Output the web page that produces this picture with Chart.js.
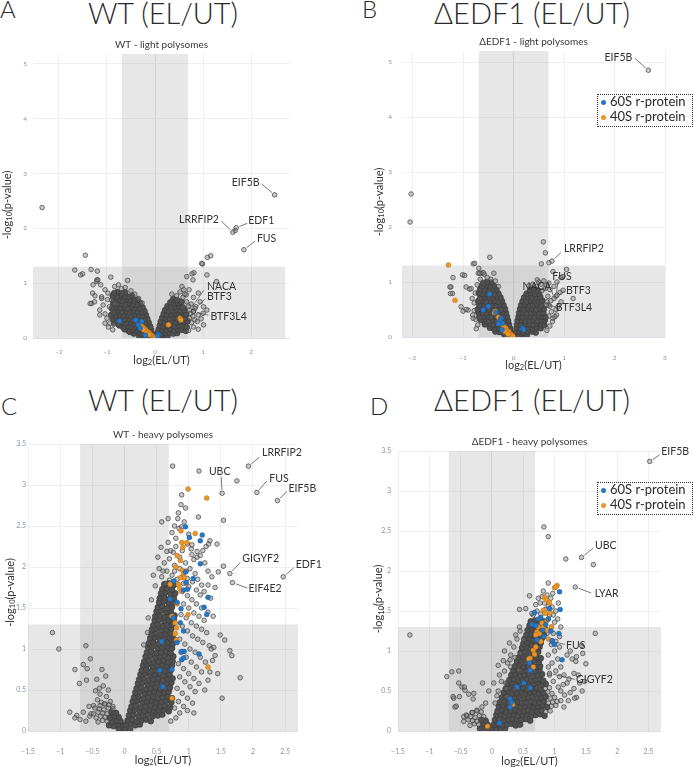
<!DOCTYPE html>
<html>
<head>
<meta charset="utf-8">
<script src="https://cdn.jsdelivr.net/npm/chart.js@4.4.1/dist/chart.umd.min.js"></script>
<style>
body { margin:0; background:#fff; width:693px; height:767px; position:relative; overflow:hidden; font-family:Lato, "Open Sans", sans-serif; color:#2a2a2a; }
canvas { position:absolute; }
.letra { position:absolute; font-family:"Lato Light", Lato, sans-serif; font-size:24px; font-weight:300; line-height:1; }
.titulo { position:absolute; width:400px; text-align:center; font-family:"Lato Light", Lato, sans-serif; font-size:29px; font-weight:300; line-height:1; white-space:nowrap; }
.leyenda { position:absolute; box-sizing:border-box; width:96px; height:33px; border:1px dotted #333; font-size:13px; }
.fila { position:absolute; left:12px; line-height:13px; white-space:nowrap; }
.punto { position:absolute; left:3px; width:5px; height:5px; border-radius:50%; }
</style>
</head>
<body>
<div class="letra" style="left:0px;top:-3px">A</div>
<div class="letra" style="left:362px;top:-3px">B</div>
<div class="letra" style="left:1px;top:394px">C</div>
<div class="letra" style="left:370px;top:394px">D</div>
<div class="titulo" style="left:-37px;top:-2px">WT (EL/UT)</div>
<div class="titulo" style="left:332px;top:-2px">ΔEDF1 (EL/UT)</div>
<div class="titulo" style="left:-37px;top:385px">WT (EL/UT)</div>
<div class="titulo" style="left:332px;top:385px">ΔEDF1 (EL/UT)</div>

<canvas id="grafico-a" width="346" height="345" style="left:0px;top:30px"></canvas>
<canvas id="grafico-b" width="347" height="345" style="left:346px;top:30px"></canvas>
<canvas id="grafico-c" width="346" height="357" style="left:0px;top:410px"></canvas>
<canvas id="grafico-d" width="347" height="357" style="left:346px;top:410px"></canvas>

<div class="leyenda" style="left:597px;top:94px">
  <div class="punto" style="top:5px;background:rgb(38,119,196)"></div><div class="fila" style="top:0px">60S r-protein</div>
  <div class="punto" style="top:20px;background:rgb(236,148,38)"></div><div class="fila" style="top:15px">40S r-protein</div>
</div>
<div class="leyenda" style="left:597px;top:482px">
  <div class="punto" style="top:5px;background:rgb(38,119,196)"></div><div class="fila" style="top:0px">60S r-protein</div>
  <div class="punto" style="top:20px;background:rgb(236,148,38)"></div><div class="fila" style="top:15px">40S r-protein</div>
</div>

<script>
// ---- thresholds used for the shaded areas
const umbralP = 1.3;     // -log10(0.05)
const umbralFC = 0.69;

// ---- tick values
const ticksLightXA = [-2, -1, 0, 1, 2];
const ticksLightXB = [-2, -1, 0, 1, 2, 3];
const ticksLightY = [0, 1, 2, 3, 4, 5];
const ticksHeavyX = [-1.5, -1, -0.5, 0, 0.5, 1, 1.5, 2, 2.5];
const ticksHeavyY = [0, 0.5, 1, 1.5, 2, 2.5, 3, 3.5];

// ================= A : WT light polysomes =================
const wtLightGenes = ['EIF5B', 'LRRFIP2', 'EDF1', 'FUS', 'NACA', 'BTF3', 'BTF3L4'];
const wtLightGeneX = [2.49, 1.62, 1.69, 1.85, 0.72, 0.83, 0.8];
const wtLightGeneY = [2.61, 1.93, 2.01, 1.61, 0.51, 0.54, 0.48];
const wtLight60S = [[-0.74,0.31],[-0.4,0.33],[-0.28,0.3],[-0.35,0.24],[-0.31,0.18],[0.07,0.07],[0.06,0.04],[-0.2,0.05]];
const wtLight40S = [[-0.28,0.22],[-0.25,0.19],[-0.22,0.17],[-0.19,0.14],[-0.16,0.12],[-0.13,0.1],[-0.1,0.07],[-0.07,0.05],[-0.05,0.03],
  [-0.03,0.02],[-0.01,0.01],[0.01,0.01],[0.03,0.02],[0.28,0.24],[0.52,0.36],[0.54,0.33],[-0.24,0.15],[-0.18,0.09],[-0.12,0.06]];
// scattered proteins
const wtLightCloud = [
  [-2.35,2.38],[-1.45,1.51],[-1.67,1.24],[-1.51,1.17],[-1.55,1.15],[-1.33,1.25],[-1.2,1.22],[-1.21,1.06],[-0.92,1.11],[-0.57,1.05],
  [-1.21,1.03],[-1.13,0.97],[-1.04,0.88],[-0.98,0.82],[-1.3,0.82],[-1.32,0.63],[-1.26,0.66],[-1.15,0.51],[-1.04,0.44],[-0.94,0.27],
  [-0.97,0.2],[-0.86,0.25],[-0.76,0.97],[-0.84,0.94],[-0.7,0.9],[-0.9,0.69],[-0.83,0.63],[-1.11,0.72],[-0.95,0.57],[-1.11,0.75],
  [-1.15,0.42],[-1.04,0.27],[-1.35,0.63],[-1.25,0.77],[-1.29,0.97],[-1.19,1.06],[-1.0,0.36],[-0.88,0.15],[-1.08,0.6],[-0.99,0.7],
  [-0.62,0.92],[-0.5,0.86],[-0.42,0.8],[-0.34,0.72],[-0.27,0.64],
  [0.99,1.35],[1.09,1.47],[1.16,1.5],[0.81,1.19],[0.77,1.17],[1.08,1.15],[1.28,1.03],[0.66,1.12],[0.79,1.06],[0.97,1.36],
  [0.56,0.94],[0.6,0.88],[0.71,0.88],[0.65,0.79],[0.8,0.74],[0.9,0.82],[0.94,0.66],[1.01,0.57],[1.0,0.45],[0.9,0.42],
  [1.08,0.51],[0.83,0.33],[0.88,0.3],[1.01,0.24],[0.8,0.49],[0.79,0.4],[0.72,0.36],[0.76,0.28],[0.74,0.45],[0.7,0.58],
  [0.66,0.66],[0.58,0.74],[0.45,0.77],[0.35,0.8],[0.8,0.2],[0.9,0.16],[0.7,0.14],[0.75,0.62],[0.85,0.57],[0.62,0.8],
  [0.52,0.84],[0.96,0.35],[1.67,1.96]
];
// densely packed proteins
const wtLightCore = [
  [-0.04,0.02],[-0.1,0.04],[-0.17,0.03],[-0.25,0.05],[-0.33,0.04],
  [-0.06,0.08],[-0.13,0.07],[-0.2,0.09],[-0.28,0.08],[-0.36,0.1],[-0.44,0.08],[-0.52,0.11],
  [-0.08,0.15],[-0.15,0.13],[-0.23,0.14],[-0.31,0.16],[-0.39,0.14],[-0.47,0.15],[-0.55,0.13],[-0.63,0.16],
  [-0.1,0.21],[-0.18,0.2],[-0.26,0.22],[-0.34,0.19],[-0.42,0.21],[-0.5,0.2],[-0.58,0.22],[-0.66,0.19],[-0.74,0.23],
  [-0.13,0.28],[-0.21,0.26],[-0.29,0.27],[-0.37,0.29],[-0.45,0.26],[-0.53,0.28],[-0.61,0.27],[-0.69,0.29],[-0.77,0.26],[-0.85,0.28],
  [-0.16,0.35],[-0.24,0.33],[-0.32,0.34],[-0.4,0.36],[-0.48,0.33],[-0.56,0.35],[-0.64,0.34],[-0.72,0.36],[-0.8,0.33],[-0.88,0.35],
  [-0.19,0.42],[-0.27,0.4],[-0.35,0.41],[-0.43,0.43],[-0.51,0.4],[-0.59,0.42],[-0.67,0.41],[-0.75,0.43],[-0.83,0.4],[-0.91,0.42],
  [-0.22,0.49],[-0.3,0.47],[-0.38,0.48],[-0.46,0.5],[-0.54,0.47],[-0.62,0.49],[-0.7,0.48],[-0.78,0.5],[-0.86,0.47],
  [-0.26,0.56],[-0.34,0.54],[-0.42,0.55],[-0.5,0.57],[-0.58,0.54],[-0.66,0.56],[-0.74,0.55],[-0.82,0.57],[-0.9,0.54],
  [-0.31,0.63],[-0.39,0.61],[-0.47,0.62],[-0.55,0.64],[-0.63,0.61],[-0.71,0.63],[-0.79,0.62],[-0.87,0.64],
  [-0.37,0.7],[-0.45,0.68],[-0.53,0.69],[-0.61,0.71],[-0.69,0.68],[-0.77,0.7],[-0.85,0.69],
  [-0.48,0.77],[-0.56,0.75],[-0.64,0.76],[-0.72,0.78],[-0.8,0.75],[-0.88,0.77],
  [-0.62,0.83],[-0.7,0.81],[-0.78,0.84],[-0.85,0.82],
  [0.04,0.03],[0.11,0.02],[0.18,0.04],[0.26,0.03],
  [0.06,0.1],[0.14,0.08],[0.22,0.09],[0.3,0.1],[0.38,0.08],[0.46,0.09],
  [0.08,0.16],[0.16,0.14],[0.24,0.15],[0.32,0.17],[0.4,0.14],[0.48,0.16],[0.56,0.15],[0.64,0.13],
  [0.1,0.23],[0.18,0.21],[0.26,0.22],[0.34,0.24],[0.42,0.21],[0.5,0.23],[0.58,0.22],[0.66,0.2],
  [0.12,0.3],[0.2,0.28],[0.28,0.29],[0.36,0.31],[0.44,0.28],[0.52,0.3],[0.6,0.29],[0.68,0.31],
  [0.15,0.37],[0.23,0.35],[0.31,0.36],[0.39,0.38],[0.47,0.35],[0.55,0.37],[0.63,0.36],
  [0.18,0.44],[0.26,0.42],[0.34,0.43],[0.42,0.45],[0.5,0.42],[0.58,0.44],[0.65,0.43],
  [0.21,0.51],[0.29,0.49],[0.37,0.5],[0.45,0.52],[0.53,0.49],[0.61,0.51],
  [0.26,0.58],[0.34,0.56],[0.42,0.57],[0.5,0.59],[0.58,0.56],
  [0.32,0.65],[0.4,0.63],[0.48,0.64],[0.55,0.66],
  [0.38,0.71],[0.46,0.69]
];

// ================= B : dEDF1 light polysomes =================
const edfLightGenes = ['EIF5B', 'LRRFIP2', 'FUS', 'NACA', 'BTF3', 'BTF3L4'];
const edfLightGeneX = [2.67, 0.76, 0.84, 0.8, 0.86, 0.65];
const edfLightGeneY = [4.85, 1.38, 0.74, 0.7, 0.76, 0.58];
const edfLight60S = [[-0.47,0.78],[-0.5,0.56],[-0.6,0.49],[-0.25,0.34],[-0.27,0.29],[-0.22,0.25],[-0.23,0.13],[0.18,0.16],[0.2,0.13],[-0.3,0.24],[-0.35,0.45]];
const edfLight40S = [[-1.29,1.31],[-1.16,0.67],[-0.38,0.44],[-0.36,0.47],[-0.3,0.36],[-0.27,0.32],[-0.24,0.26],[-0.21,0.21],[-0.19,0.18],
  [-0.15,0.16],[-0.13,0.12],[-0.09,0.09],[-0.06,0.05],[-0.03,0.03],[-0.01,0.01],[-0.17,0.1],[-0.11,0.05]];
const edfLightCloud = [
  [-2.03,2.6],[-2.05,2.09],[-1.24,0.91],[-1.2,1.08],[-1.21,0.79],[-1.25,0.79],[-1.04,0.55],[-1.0,0.47],[-0.9,0.49],[-0.94,0.5],
  [-0.94,0.91],[-0.87,0.87],[-0.84,0.88],[-1.01,1.13],[-0.97,1.12],[-0.8,1.33],[-0.77,1.34],[-0.69,1.25],[-0.47,1.45],[-0.39,1.16],
  [-0.58,1.14],[-0.64,1.16],[-0.7,1.16],[-0.67,1.16],[-0.6,1.17],[-0.81,0.4],[-0.8,0.34],[-0.75,0.32],[-0.71,0.22],[-1.26,0.91],
  [-0.78,0.62],[-0.82,0.7],[-0.76,0.8],[-0.72,0.95],[-0.66,1.05],[-0.52,1.08],[-0.45,1.05],[-0.36,1.02],[-0.3,0.92],[-0.78,0.48],[-0.74,0.15],
  [0.59,1.73],[0.63,1.53],[0.55,1.33],[0.7,1.35],[0.78,1.19],[1.05,1.23],[0.98,1.1],[0.94,1.08],[0.47,1.04],[0.98,0.85],
  [0.92,0.81],[1.18,0.7],[0.94,0.64],[0.69,0.58],[0.75,0.46],[0.78,0.34],[0.77,0.28],[0.85,0.4],[0.82,0.37],[0.72,0.56],
  [0.5,1.0],[0.55,0.96],[0.6,1.02],[0.65,0.94],[0.7,0.98],[0.62,0.88],[0.72,0.86],[0.8,0.92],[0.86,1.0],[0.68,0.74],
  [0.74,0.66],[0.66,0.64],[0.7,0.38],[0.72,0.2],[0.66,0.12],[0.3,0.93],[0.38,0.96],[0.45,0.92],[0.56,0.84],[0.88,0.55],[0.84,0.5]
];
const edfLightCore = [
  [-0.04,0.03],[-0.11,0.02],[-0.18,0.04],
  [-0.05,0.09],[-0.12,0.1],[-0.2,0.08],[-0.28,0.09],[-0.36,0.1],
  [-0.07,0.16],[-0.15,0.15],[-0.23,0.17],[-0.31,0.16],[-0.39,0.15],[-0.47,0.17],
  [-0.09,0.23],[-0.17,0.22],[-0.25,0.24],[-0.33,0.23],[-0.41,0.22],[-0.49,0.24],[-0.57,0.23],
  [-0.11,0.3],[-0.19,0.31],[-0.27,0.29],[-0.35,0.3],[-0.43,0.31],[-0.51,0.29],[-0.59,0.3],[-0.65,0.31],
  [-0.13,0.37],[-0.21,0.36],[-0.29,0.38],[-0.37,0.37],[-0.45,0.36],[-0.53,0.38],[-0.61,0.37],[-0.68,0.36],
  [-0.15,0.44],[-0.23,0.45],[-0.31,0.43],[-0.39,0.44],[-0.47,0.45],[-0.55,0.43],[-0.63,0.44],[-0.7,0.45],
  [-0.17,0.51],[-0.25,0.5],[-0.33,0.52],[-0.41,0.51],[-0.49,0.5],[-0.57,0.52],[-0.65,0.51],[-0.71,0.5],
  [-0.2,0.58],[-0.28,0.59],[-0.36,0.57],[-0.44,0.58],[-0.52,0.59],[-0.6,0.57],[-0.68,0.58],
  [-0.23,0.65],[-0.31,0.64],[-0.39,0.66],[-0.47,0.65],[-0.55,0.64],[-0.63,0.66],[-0.7,0.65],
  [-0.26,0.72],[-0.34,0.73],[-0.42,0.71],[-0.5,0.72],[-0.58,0.73],[-0.66,0.71],
  [-0.3,0.79],[-0.38,0.78],[-0.46,0.8],[-0.54,0.79],[-0.62,0.78],[-0.69,0.8],
  [-0.34,0.86],[-0.42,0.87],[-0.5,0.85],[-0.58,0.86],[-0.66,0.87],
  [-0.39,0.93],[-0.47,0.92],[-0.55,0.94],[-0.63,0.93],
  [-0.45,0.99],[-0.53,1.0],[-0.6,0.98],
  [0.03,0.03],[0.1,0.02],[0.18,0.04],[0.26,0.03],
  [0.05,0.09],[0.12,0.1],[0.2,0.08],[0.28,0.09],[0.36,0.1],[0.44,0.08],
  [0.06,0.16],[0.14,0.15],[0.22,0.17],[0.3,0.16],[0.38,0.15],[0.46,0.17],[0.54,0.16],
  [0.07,0.23],[0.15,0.22],[0.23,0.24],[0.31,0.23],[0.39,0.22],[0.47,0.24],[0.55,0.23],[0.61,0.22],
  [0.08,0.3],[0.16,0.31],[0.24,0.29],[0.32,0.3],[0.4,0.31],[0.48,0.29],[0.56,0.3],[0.62,0.31],
  [0.1,0.37],[0.18,0.36],[0.26,0.38],[0.34,0.37],[0.42,0.36],[0.5,0.38],[0.58,0.37],[0.63,0.36],
  [0.11,0.44],[0.19,0.45],[0.27,0.43],[0.35,0.44],[0.43,0.45],[0.51,0.43],[0.59,0.44],
  [0.13,0.51],[0.21,0.5],[0.29,0.52],[0.37,0.51],[0.45,0.5],[0.53,0.52],[0.6,0.51],
  [0.15,0.58],[0.23,0.59],[0.31,0.57],[0.39,0.58],[0.47,0.59],[0.55,0.57],
  [0.18,0.65],[0.26,0.64],[0.34,0.66],[0.42,0.65],[0.5,0.64],[0.57,0.66],
  [0.21,0.72],[0.29,0.73],[0.37,0.71],[0.45,0.72],[0.53,0.73],
  [0.26,0.79],[0.34,0.8],[0.42,0.78],[0.5,0.79],
  [0.33,0.86],[0.41,0.87],[0.48,0.85]
];

// ================= C : WT heavy polysomes =================
const wtHeavyGenes = ['LRRFIP2', 'UBC', 'FUS', 'EIF5B', 'GIGYF2', 'EDF1', 'EIF4E2'];
const wtHeavyGeneX = [1.93, 1.52, 2.06, 2.38, 1.64, 2.47, 1.68];
const wtHeavyGeneY = [3.23, 2.9, 2.91, 2.81, 1.92, 1.88, 1.81];
const wtHeavy60S = [[0.95,2.49],[1.01,2.36],[1.18,2.32],[1.21,2.39],[1.18,2.04],[0.95,1.94],[0.77,1.83],[0.96,1.81],[0.92,1.72],[0.98,1.73],
  [1.07,1.86],[1.3,1.63],[1.24,1.51],[1.28,1.42],[0.71,1.61],[0.82,1.57],[0.88,1.49],[0.76,1.38],[0.87,1.32],[0.92,1.22],
  [0.58,1.09],[0.82,1.08],[0.93,0.97],[0.89,0.87],[0.74,0.75],[0.55,0.74],[0.6,0.54],[1.16,0.94],[0.92,0.89],[0.89,0.97]];
const wtHeavy40S = [[0.99,2.95],[1.28,2.84],[0.88,2.44],[1.1,2.41],[0.89,2.3],[0.97,2.3],[0.91,2.24],[0.82,2.14],[0.87,2.08],[0.9,1.96],
  [0.92,1.91],[0.71,1.79],[0.84,1.79],[0.96,1.8],[0.93,1.87],[0.87,1.87],[0.88,1.71],[0.82,1.55],[0.74,1.4],[0.79,1.32],
  [0.81,1.26],[0.79,1.19],[0.81,1.11],[0.99,1.42],[1.3,0.78],[0.74,0.4],[0.8,2.0],[0.86,1.74]];
const wtHeavyCloud = [
  [0.75,3.23],[1.16,3.17],[1.75,3.05],[1.54,2.01],[1.46,1.94],[1.54,2.57],[0.89,2.88],[1.15,2.61],[0.88,2.76],[0.84,2.66],
  [0.95,2.72],[0.83,2.59],[0.68,2.59],[0.58,2.55],[0.93,2.55],[0.89,2.49],[0.85,2.47],[1.33,2.32],[1.44,2.28],[1.27,2.25],
  [0.57,2.24],[0.66,2.19],[0.76,2.18],[1.05,2.15],[1.13,2.12],[1.08,2.09],[0.48,1.77],[1.41,1.75],[0.8,2.35],[1.05,2.27],
  [1.13,2.19],[1.18,2.14],[1.31,2.28],[0.62,2.05],[0.7,2.1],[0.78,2.02],[0.86,1.98],[0.95,2.05],[1.02,1.98],[1.1,1.92],
  [0.66,1.95],[0.74,1.9],[0.82,1.85],[0.9,1.88],[0.98,1.86],[1.06,1.82],[1.14,1.85],[1.2,1.78],[0.58,1.88],[0.72,2.2],
  [0.8,2.25],[0.9,2.2],[0.98,2.28],[1.04,2.22],[0.68,2.3],[0.74,2.42],[0.78,2.5],[1.0,2.4],[1.22,2.2],[1.25,2.05],
  [1.3,1.95],[1.36,1.88],[1.3,1.78],[1.24,1.7],[1.34,1.62],[1.18,1.66],[1.12,1.72],[1.0,1.76],[0.92,1.8],[0.54,1.98],
  [0.52,2.12],[0.7,1.84],[0.78,1.95],[0.86,2.12],[0.64,1.8],[0.6,1.95],[0.96,1.95],[0.37,1.38],[0.42,1.6],[0.45,1.9],[0.36,1.2],[0.3,1.05],
  [0.9,1.7],[0.98,1.65],[1.05,1.6],[1.12,1.55],[1.2,1.5],[1.3,1.45],[1.38,1.4],[0.92,1.55],[1.0,1.5],[1.08,1.44],
  [1.16,1.4],[1.24,1.35],[0.88,1.42],[0.96,1.38],[1.04,1.32],[1.12,1.28],[1.2,1.24],[1.28,1.2],[0.9,1.28],[0.98,1.22],
  [1.06,1.16],[1.14,1.12],[1.22,1.08],[1.32,1.04],[1.41,0.92],[1.35,1.0],[1.49,1.17],[1.56,1.11],[1.64,0.98],[1.67,0.92],
  [1.37,0.86],[1.33,0.72],[1.52,0.4],[1.8,0.65],[0.86,1.12],[0.94,1.06],[1.02,1.0],[1.1,0.96],[1.18,0.9],[1.26,0.84],
  [0.88,0.96],[0.96,0.9],[1.04,0.84],[1.12,0.78],[1.2,0.72],[0.84,0.82],[0.92,0.76],[1.0,0.7],[1.08,0.64],[1.16,0.58],
  [0.86,0.66],[0.94,0.6],[1.02,0.54],[1.1,0.48],[0.82,0.52],[0.9,0.46],[0.98,0.4],[1.06,0.34],[0.84,0.36],[0.92,0.3],
  [0.78,0.28],[0.86,0.22],[0.8,0.16],[0.72,0.12],[0.98,0.25],[1.08,0.22],[1.25,0.5],[1.3,0.62],[1.45,0.7],[1.39,1.02],
  [-1.12,1.2],[-1.02,1.0],[-0.6,1.04],[-0.53,0.88],[-0.64,0.81],[-0.77,0.75],[-0.58,0.76],[-0.35,0.75],[-0.29,0.67],[-0.7,0.58],
  [-0.59,0.62],[-0.85,0.23],[-0.74,0.19],[-0.77,0.16],[-0.54,0.18],[-0.52,0.21],[-0.43,0.63],[-0.39,0.52],[-0.45,0.49],[-0.38,0.45],
  [-0.33,0.55],[-0.42,0.38],[-0.36,0.35],[-0.3,0.33],[-0.48,0.31],[-0.64,0.23],[-0.69,0.14],[-0.28,0.42],[-0.22,0.36],[-0.25,0.5],
  [-0.18,0.3],[-0.55,0.3],[-0.6,0.12],
  [-0.27,0.12],[-0.34,0.13],[-0.41,0.11],[-0.3,0.17],[-0.37,0.18],[-0.44,0.16],
  [-0.27,0.21],[-0.34,0.22],[-0.41,0.23],[-0.48,0.21],
  [-0.18,0.27],[-0.25,0.28],[-0.32,0.26],[-0.39,0.27],[-0.46,0.28],
  [-0.24,0.32],[-0.31,0.33],[-0.38,0.31]
];
const wtHeavyCore = [
  [-0.03,0.02],[-0.09,0.03],
  [-0.04,0.07],[-0.1,0.08],[-0.17,0.06],[-0.24,0.07],
  [-0.06,0.12],[-0.13,0.13],[-0.2,0.11],
  [-0.09,0.17],[-0.16,0.18],[-0.23,0.16],
  [-0.13,0.22],[-0.2,0.23],
  [0.02,0.03],[0.09,0.02],
  [0.03,0.08],[0.1,0.09],[0.17,0.07],[0.24,0.08],
  [0.05,0.13],[0.12,0.14],[0.2,0.12],[0.27,0.13],[0.34,0.14],[0.41,0.12],
  [0.07,0.19],[0.14,0.2],[0.22,0.18],[0.29,0.19],[0.37,0.2],[0.44,0.18],[0.52,0.19],[0.59,0.2],
  [0.09,0.25],[0.16,0.26],[0.24,0.24],[0.31,0.25],[0.39,0.26],[0.46,0.24],[0.54,0.25],[0.61,0.26],[0.69,0.24],
  [0.11,0.3],[0.18,0.31],[0.26,0.29],[0.33,0.3],[0.41,0.31],[0.48,0.29],[0.56,0.3],[0.63,0.31],[0.71,0.29],
  [0.13,0.36],[0.2,0.37],[0.28,0.35],[0.35,0.36],[0.43,0.37],[0.5,0.35],[0.58,0.36],[0.65,0.37],[0.73,0.35],
  [0.15,0.41],[0.22,0.42],[0.3,0.4],[0.37,0.41],[0.45,0.42],[0.52,0.4],[0.6,0.41],[0.67,0.42],[0.74,0.4],
  [0.17,0.47],[0.24,0.48],[0.32,0.46],[0.39,0.47],[0.47,0.48],[0.54,0.46],[0.62,0.47],[0.69,0.48],
  [0.19,0.52],[0.26,0.53],[0.34,0.51],[0.41,0.52],[0.49,0.53],[0.56,0.51],[0.64,0.52],[0.71,0.53],
  [0.21,0.58],[0.28,0.59],[0.36,0.57],[0.43,0.58],[0.51,0.59],[0.58,0.57],[0.66,0.58],[0.73,0.59],
  [0.23,0.63],[0.3,0.64],[0.38,0.62],[0.45,0.63],[0.53,0.64],[0.6,0.62],[0.68,0.63],[0.75,0.64],
  [0.25,0.69],[0.32,0.7],[0.4,0.68],[0.47,0.69],[0.55,0.7],[0.62,0.68],[0.7,0.69],
  [0.27,0.74],[0.34,0.75],[0.42,0.73],[0.49,0.74],[0.57,0.75],[0.64,0.73],[0.72,0.74],
  [0.29,0.8],[0.36,0.81],[0.44,0.79],[0.51,0.8],[0.59,0.81],[0.66,0.79],[0.74,0.8],
  [0.31,0.85],[0.38,0.86],[0.46,0.84],[0.53,0.85],[0.61,0.86],[0.68,0.84],[0.75,0.85],
  [0.33,0.91],[0.4,0.92],[0.48,0.9],[0.55,0.91],[0.63,0.92],[0.7,0.9],[0.76,0.91],
  [0.35,0.96],[0.42,0.97],[0.5,0.95],[0.57,0.96],[0.65,0.97],[0.72,0.95],
  [0.37,1.02],[0.44,1.03],[0.52,1.01],[0.59,1.02],[0.67,1.03],[0.74,1.01],
  [0.38,1.07],[0.45,1.08],[0.53,1.06],[0.6,1.07],[0.68,1.08],[0.75,1.06],
  [0.4,1.13],[0.47,1.14],[0.55,1.12],[0.62,1.13],[0.7,1.14],[0.77,1.12],
  [0.42,1.18],[0.49,1.19],[0.57,1.17],[0.64,1.18],[0.72,1.19],
  [0.43,1.24],[0.5,1.25],[0.58,1.23],[0.65,1.24],[0.73,1.25],
  [0.45,1.29],[0.52,1.3],[0.6,1.28],[0.67,1.29],[0.75,1.3],
  [0.47,1.35],[0.54,1.36],[0.62,1.34],[0.69,1.35],[0.77,1.36],
  [0.48,1.4],[0.55,1.41],[0.63,1.39],[0.7,1.4],[0.78,1.41],
  [0.5,1.46],[0.57,1.47],[0.65,1.45],[0.72,1.46],
  [0.52,1.51],[0.59,1.52],[0.67,1.5],[0.74,1.51],
  [0.54,1.57],[0.61,1.58],[0.69,1.56],[0.76,1.57],
  [0.55,1.62],[0.62,1.63],[0.7,1.61],[0.77,1.62],
  [0.57,1.68],[0.64,1.69],[0.72,1.67],[0.79,1.68],
  [0.59,1.73],[0.66,1.74],[0.74,1.72],
  [0.62,1.79],[0.69,1.8],[0.77,1.78]
];

// ================= D : dEDF1 heavy polysomes =================
const edfHeavyGenes = ['EIF5B', 'UBC', 'LYAR', 'FUS', 'GIGYF2'];
const edfHeavyGeneX = [2.52, 1.43, 1.33, 0.96, 0.92];
const edfHeavyGeneY = [3.37, 2.17, 1.8, 1.12, 0.72];
const edfHeavy60S = [[1.08,1.74],[1.09,1.52],[0.68,1.48],[0.64,1.33],[0.92,1.53],[1.07,1.22],[1.0,1.08],[1.12,0.89],[0.6,0.85],[0.61,0.76],
  [0.51,0.6],[0.4,0.55],[0.61,0.54],[0.29,0.4],[0.31,0.36],[0.29,0.3],[0.12,0.1],[0.72,1.14],[0.83,1.18],[0.9,1.4],
  [0.78,1.42],[0.86,1.33],[0.94,1.25],[0.74,1.4],[0.81,1.26],[0.96,1.13],[0.7,1.32]];
const edfHeavy40S = [[1.0,1.79],[1.04,1.82],[1.02,1.8],[0.84,1.67],[0.87,1.64],[0.92,1.6],[0.82,1.51],[0.85,1.47],[0.93,1.48],[0.8,1.35],
  [0.88,1.38],[0.72,1.24],[0.76,1.22],[0.88,1.26],[0.7,1.2],[0.78,1.12],[0.66,1.01],[0.7,1.05],[0.61,0.91],[0.66,0.8],
  [0.59,0.9],[0.33,0.33],[-0.07,0.06],[0.95,1.3],[0.82,1.3],[0.74,1.3],[0.9,1.15],[0.68,0.96]];
const edfHeavyCloud = [
  [0.83,2.55],[0.9,2.43],[1.18,2.15],[1.62,2.08],[0.9,1.85],[-1.31,1.2],[1.65,1.22],[0.6,1.69],[0.44,1.52],[0.54,1.53],
  [0.66,1.45],[0.72,1.5],[0.78,1.46],[0.85,1.52],[0.92,1.45],[0.7,1.58],[0.77,1.6],[0.84,1.6],[0.9,1.56],[0.96,1.55],
  [0.8,1.68],[0.88,1.7],[0.94,1.66],[0.74,1.66],[0.98,1.45],[0.9,1.4],[1.0,1.36],[0.95,1.3],[1.02,1.5],[1.06,1.6],
  [0.82,1.75],[0.97,1.72],[1.05,1.4],[1.1,1.3],[1.08,1.18],[0.98,1.22],[0.88,1.22],
  [1.43,1.07],[1.45,0.97],[1.35,0.93],[1.34,0.87],[1.5,0.84],[1.31,0.72],[1.23,0.65],[1.31,0.53],[1.35,0.42],[1.25,0.48],
  [1.32,0.41],[1.0,1.0],[1.05,0.9],[1.1,0.8],[1.15,0.7],[1.2,0.6],[0.95,1.08],[1.02,1.12],[1.08,1.05],[0.9,0.95],
  [0.96,0.85],[1.02,0.75],[1.08,0.68],[1.14,0.58],[1.1,0.5],[1.16,0.45],[1.22,0.38],[1.1,0.38],[1.15,0.3],[1.06,0.55],
  [0.92,0.7],[0.98,0.62],[0.9,0.8],[1.2,0.95],[1.28,0.9],[1.25,1.0],[1.4,0.6],[1.44,0.5],[1.48,0.62],[1.38,0.7],
  [0.1,0.5],[0.15,0.62],[0.2,0.75],[0.25,0.85],[0.3,0.95],[0.35,1.05],[0.05,0.35],[0.12,0.7],[0.18,0.88],[0.28,1.1],
  [0.38,1.2],[0.44,1.3],[0.3,0.8],[0.22,0.6],[0.08,0.44],[0.4,1.15],[0.45,1.25],[-0.1,0.35],[-0.05,0.5],[0.03,0.6],
  [0.1,0.82],[-0.15,0.6],[0.2,1.0],[0.29,0.89],[0.37,0.92],[0.23,0.53],[0.24,0.43],[0.43,0.76],[0.45,0.97],[0.51,1.14],[0.64,1.47],
  [-0.72,0.68],[-0.64,0.74],[-0.53,0.75],[-0.53,0.6],[-0.48,0.55],[-0.43,0.51],[-0.61,0.41],[-0.52,0.43],[-0.37,0.46],[-0.29,0.47],
  [-0.59,0.3],[-0.45,0.18],[-0.4,0.19],[-0.32,0.23],[-0.24,0.26],[-0.16,0.3],[-0.62,0.43],[-0.57,0.31],[-0.44,0.55],[-0.3,0.4],
  [-0.21,0.08],[-0.28,0.09],[-0.35,0.07],
  [-0.24,0.12],[-0.31,0.13],[-0.38,0.14],[-0.45,0.12],
  [-0.13,0.18],[-0.2,0.19],[-0.27,0.17],[-0.34,0.18],[-0.41,0.2],
  [-0.17,0.24],[-0.24,0.25],[-0.31,0.23],
  [0.9,0.35],[0.97,0.36],[1.04,0.37],[0.95,0.31],[1.02,0.32],[0.93,0.41],[1.0,0.42],[0.89,0.49],[0.96,0.47],[0.86,0.24],[0.93,0.25],[0.85,0.53],[0.92,0.54]
];
const edfHeavyCore = [
  [-0.05,0.03],[-0.12,0.04],[-0.19,0.03],
  [-0.07,0.08],[-0.14,0.09],
  [-0.1,0.13],[-0.17,0.14],
  [0.0,0.03],[0.07,0.02],[0.14,0.04],[0.21,0.03],
  [0.03,0.08],[0.1,0.09],[0.17,0.07],[0.24,0.08],[0.31,0.09],[0.38,0.07],[0.45,0.08],
  [0.05,0.14],[0.12,0.15],[0.19,0.13],[0.26,0.14],[0.33,0.15],[0.4,0.13],[0.47,0.14],[0.54,0.15],[0.61,0.13],
  [0.07,0.2],[0.14,0.21],[0.21,0.19],[0.28,0.2],[0.35,0.21],[0.42,0.19],[0.49,0.2],[0.56,0.21],[0.63,0.19],[0.7,0.2],[0.77,0.21],[0.84,0.19],
  [0.09,0.25],[0.16,0.26],[0.23,0.24],[0.3,0.25],[0.37,0.26],[0.44,0.24],[0.51,0.25],[0.58,0.26],[0.65,0.24],[0.72,0.25],[0.79,0.26],
  [0.11,0.31],[0.18,0.32],[0.25,0.3],[0.32,0.31],[0.39,0.32],[0.46,0.3],[0.53,0.31],[0.6,0.32],[0.67,0.3],[0.74,0.31],[0.81,0.32],[0.88,0.3],
  [0.13,0.36],[0.2,0.37],[0.27,0.35],[0.34,0.36],[0.41,0.37],[0.48,0.35],[0.55,0.36],[0.62,0.37],[0.69,0.35],[0.76,0.36],[0.83,0.37],
  [0.16,0.42],[0.23,0.43],[0.3,0.41],[0.37,0.42],[0.44,0.43],[0.51,0.41],[0.58,0.42],[0.65,0.43],[0.72,0.41],[0.79,0.42],[0.86,0.43],
  [0.19,0.48],[0.26,0.49],[0.33,0.47],[0.4,0.48],[0.47,0.49],[0.54,0.47],[0.61,0.48],[0.68,0.49],[0.75,0.47],[0.82,0.48],
  [0.22,0.53],[0.29,0.54],[0.36,0.52],[0.43,0.53],[0.5,0.54],[0.57,0.52],[0.64,0.53],[0.71,0.54],[0.78,0.52],
  [0.25,0.59],[0.32,0.6],[0.39,0.58],[0.46,0.59],[0.53,0.6],[0.6,0.58],[0.67,0.59],[0.74,0.6],[0.81,0.58],[0.86,0.59],
  [0.28,0.64],[0.35,0.65],[0.42,0.63],[0.49,0.64],[0.56,0.65],[0.63,0.63],[0.7,0.64],[0.77,0.65],[0.82,0.63],
  [0.31,0.7],[0.38,0.71],[0.45,0.69],[0.52,0.7],[0.59,0.71],[0.66,0.69],[0.73,0.7],[0.8,0.71],
  [0.34,0.76],[0.41,0.77],[0.48,0.75],[0.55,0.76],[0.62,0.77],[0.69,0.75],[0.76,0.76],
  [0.37,0.81],[0.44,0.82],[0.51,0.8],[0.58,0.81],[0.65,0.82],[0.72,0.8],[0.77,0.81],
  [0.4,0.87],[0.47,0.88],[0.54,0.86],[0.61,0.87],[0.68,0.88],[0.75,0.86],
  [0.43,0.92],[0.5,0.93],[0.57,0.91],[0.64,0.92],[0.71,0.93],[0.78,0.91],
  [0.46,0.98],[0.53,0.99],[0.6,0.97],[0.67,0.98],[0.74,0.99],
  [0.48,1.04],[0.55,1.05],[0.62,1.03],[0.69,1.04],[0.76,1.05],
  [0.5,1.09],[0.57,1.1],[0.64,1.08],[0.71,1.09],[0.78,1.1],
  [0.52,1.15],[0.59,1.16],[0.66,1.14],[0.73,1.15],[0.8,1.16],
  [0.55,1.2],[0.62,1.21],[0.69,1.19],[0.76,1.2],[0.83,1.21],
  [0.57,1.26],[0.64,1.27],[0.71,1.25],[0.78,1.26],[0.85,1.27],
  [0.6,1.32],[0.67,1.33],[0.74,1.31],[0.81,1.32],
  [0.62,1.37],[0.69,1.38],[0.76,1.36],[0.83,1.37]
];

// ---- label placement (pixels, relative to the labelled point)
const wtLightPos = [
  {dx:-15, dy:-12, lx:-13, ly:-11, al:'right'}, {dx:-14, dy:-12.5, lx:-11.5, ly:-11, al:'right'},
  {dx:12, dy:-7, lx:11, ly:-4.5, al:'left'}, {dx:13, dy:-11, lx:11, ly:-8.5, al:'left'},
  {dx:17.5, dy:-23.5, lx:14.5, ly:-20, al:'left'}, {dx:12, dy:-11.5, lx:10.5, ly:-9.5, al:'left'},
  {dx:17, dy:4.5, lx:15, ly:3.5, al:'left'}];
const edfLightPos = [
  {dx:-16, dy:-13, lx:-13.5, ly:-12, al:'right'}, {dx:12, dy:-12, lx:9, ly:-8.5, al:'left'},
  {dx:6, dy:-19.5, lx:2, ly:-14.5, al:'center'}, {dx:-2.5, dy:-12, lx:-2.5, ly:-8.5, al:'right'},
  {dx:9, dy:-5, lx:8, ly:-3.5, al:'left'}, {dx:9.5, dy:3, lx:8.5, ly:1.5, al:'left'}];
const wtHeavyPos = [
  {dx:13.5, dy:-14, lx:11, ly:-9, al:'left'}, {dx:-2.5, dy:-21.5, lx:-1, ly:-16.5, al:'center'},
  {dx:12.5, dy:-14, lx:10, ly:-11.5, al:'left'}, {dx:11, dy:-11.5, lx:9.5, ly:-9, al:'left'},
  {dx:12.5, dy:-14.5, lx:10.5, ly:-11, al:'left'}, {dx:12.5, dy:-12.5, lx:10.5, ly:-9, al:'left'},
  {dx:16, dy:6.5, lx:15, ly:5.5, al:'left'}];
const edfHeavyPos = [
  {dx:11.5, dy:-10, lx:10, ly:-6.5, al:'left'}, {dx:13.5, dy:-11.5, lx:11.5, ly:-9, al:'left'},
  {dx:19.5, dy:6.5, lx:16, ly:6, al:'left'}, {dx:14, dy:4, lx:13, ly:3, al:'left'},
  {dx:26.5, dy:6, lx:25.5, ly:6, al:'left'}];

const azul = 'rgb(38,119,196)';
const naranja = 'rgb(236,148,38)';
Chart.defaults.font.family = 'Lato, "Open Sans", sans-serif';

function aPuntos(lista) {
  return lista.map(p => ({x: p[0], y: p[1]}));
}

function fmt(v) {
  return String(v).replace('-', '\u2212');
}

// draws text with a subscript part, centered on x
function TextoConSub(ctx, partes, x, y) {
  let ancho = 0;
  partes.forEach(p => { ctx.font = p[1] ? '7.5px Lato' : '11px Lato'; ancho += ctx.measureText(p[0]).width; });
  let cx = x - ancho / 2;
  partes.forEach(p => {
    ctx.font = p[1] ? '7.5px Lato' : '11px Lato';
    ctx.fillText(p[0], cx, y + (p[1] ? 3 : 0));
    cx += ctx.measureText(p[0]).width;
  });
}

function PluginVolcan(cfg) {
  return {
    id: 'volcan',
    beforeDatasetsDraw(chart) {
      const {ctx, chartArea: a, scales: {x, y}} = chart;
      ctx.save();
      ctx.fillStyle = 'rgba(160,160,160,0.25)';
      let y0 = y.getPixelForValue(0), yp = y.getPixelForValue(umbralP);
      let hx0 = x.getPixelForValue(cfg.banda[0]), hx1 = x.getPixelForValue(cfg.banda[1]);
      ctx.fillRect(hx0, yp, hx1 - hx0, y0 - yp);
      let vx0 = x.getPixelForValue(-umbralFC), vx1 = x.getPixelForValue(umbralFC);
      ctx.fillRect(vx0, a.top, vx1 - vx0, y0 - a.top);
      ctx.restore();
    },
    afterDatasetsDraw(chart) {
      const {ctx, scales: {x, y}} = chart;
      ctx.save();
      ctx.font = '10.5px Lato';
      ctx.fillStyle = '#333';
      ctx.strokeStyle = '#555';
      ctx.lineWidth = 0.8;
      ctx.textBaseline = 'middle';
      cfg.genes.forEach((g, i) => {
        let px = x.getPixelForValue(cfg.geneX[i]);
        let py = y.getPixelForValue(cfg.geneY[i]);
        let s = cfg.pos[i];
        let len = Math.hypot(s.lx, s.ly);
        ctx.beginPath();
        ctx.moveTo(px + s.lx * 3.5 / len, py + s.ly * 3.5 / len);
        ctx.lineTo(px + s.lx, py + s.ly);
        ctx.stroke();
        ctx.textAlign = s.al;
        ctx.fillText(g, px + s.dx, py + s.dy);
      });
      ctx.restore();
    },
    afterDraw(chart) {
      const {ctx, chartArea: a} = chart;
      ctx.save();
      ctx.fillStyle = '#3a3a3a';
      ctx.textBaseline = 'middle';
      ctx.textAlign = 'center';
      ctx.font = '10px Lato';
      ctx.fillText(cfg.subtitulo, (a.left + a.right) / 2, a.top - 9);
      ctx.fillStyle = '#333';
      ctx.textAlign = 'left';
      TextoConSub(ctx, [['log', false], ['2', true], ['(EL/UT)', false]], (a.left + a.right) / 2, a.bottom + cfg.xTitulo);
      ctx.translate(cfg.yTituloX, (a.top + a.bottom) / 2 + cfg.yTituloDy);
      ctx.rotate(-Math.PI / 2);
      TextoConSub(ctx, [['-log', false], ['10', true], ['(p-value)', false]], 0, 0);
      ctx.restore();
    }
  };
}

function GraficoVolcan(id, cfg) {
  let gris = cfg.nube.concat(cfg.geneX.map((v, i) => [v, cfg.geneY[i]]));
  new Chart(document.getElementById(id), {
    type: 'scatter',
    data: {
      datasets: [
        {data: aPuntos(cfg.r60), backgroundColor: azul, borderColor: 'rgba(20,70,130,0.6)', borderWidth: 0.5, pointRadius: 2.5},
        {data: aPuntos(cfg.r40), backgroundColor: naranja, borderColor: 'rgba(150,90,10,0.6)', borderWidth: 0.5, pointRadius: 2.5},
        {data: aPuntos(gris), backgroundColor: 'rgba(120,120,120,0.4)', borderColor: 'rgba(65,65,65,0.8)', borderWidth: 0.9, pointRadius: 2.3},
        // overlapping points of the dense cloud
        {data: aPuntos(cfg.nucleo), backgroundColor: 'rgb(80,80,80)', borderColor: 'rgba(58,58,58,0.9)', borderWidth: 0.8, pointRadius: 2.9}
      ]
    },
    options: {
      responsive: false,
      animation: false,
      events: [],
      layout: {padding: cfg.padding},
      plugins: {legend: {display: false}, tooltip: {enabled: false}},
      scales: {
        x: {
          type: 'linear', min: cfg.xMin, max: cfg.xMax,
          afterBuildTicks: s => { s.ticks = cfg.xTicks.map(v => ({value: v})); },
          afterFit: s => { s.height = cfg.altoX; },
          grid: {color: c => (c.tick && c.tick.value === 0) ? '#dcdfe7' : '#eef0f5', drawTicks: false},
          border: {display: false},
          ticks: {padding: cfg.padX, autoSkip: false, maxRotation: 0, color: '#8a93a6', font: {size: cfg.fuenteTick}, callback: v => fmt(v)}
        },
        y: {
          type: 'linear', min: 0, max: cfg.yMax,
          afterBuildTicks: s => { s.ticks = cfg.yTicks.map(v => ({value: v})); },
          afterFit: s => { s.width = cfg.anchoY; },
          grid: {color: c => (c.tick && c.tick.value === 0) ? '#dcdfe7' : '#eef0f5', drawTicks: false},
          border: {display: false},
          ticks: {padding: cfg.padY, color: '#8a93a6', font: {size: cfg.fuenteTick}, callback: v => fmt(v)}
        }
      }
    },
    plugins: [PluginVolcan(cfg)]
  });
}

GraficoVolcan('grafico-a', {
  nube: wtLightCloud, nucleo: wtLightCore, r60: wtLight60S, r40: wtLight40S,
  genes: wtLightGenes, geneX: wtLightGeneX, geneY: wtLightGeneY, pos: wtLightPos,
  subtitulo: 'WT - light polysomes',
  xMin: -2.54, xMax: 2.81, yMax: 5.18, xTicks: ticksLightXA, yTicks: ticksLightY, banda: [-2.54, 2.71],
  padding: {left: 0, top: 24, right: 56, bottom: 0}, anchoY: 33, altoX: 37, padX: 10, padY: 6, fuenteTick: 6.5,
  xTitulo: 22, yTituloX: 7, yTituloDy: 9
});

GraficoVolcan('grafico-b', {
  nube: edfLightCloud, nucleo: edfLightCore, r60: edfLight60S, r40: edfLight40S,
  genes: edfLightGenes, geneX: edfLightGeneX, geneY: edfLightGeneY, pos: edfLightPos,
  subtitulo: 'ΔEDF1 - light polysomes',
  xMin: -2.21, xMax: 3.0, yMax: 5.2, xTicks: ticksLightXB, yTicks: ticksLightY, banda: [-2.21, 3.0],
  padding: {left: 0, top: 21, right: 28, bottom: 0}, anchoY: 56, altoX: 38, padX: 17, padY: 10, fuenteTick: 6.5,
  xTitulo: 28, yTituloX: 33, yTituloDy: 8
});

GraficoVolcan('grafico-c', {
  nube: wtHeavyCloud, nucleo: wtHeavyCore, r60: wtHeavy60S, r40: wtHeavy40S,
  genes: wtHeavyGenes, geneX: wtHeavyGeneX, geneY: wtHeavyGeneY, pos: wtHeavyPos,
  subtitulo: 'WT - heavy polysomes',
  xMin: -1.5, xMax: 2.7, yMax: 3.5, xTicks: ticksHeavyX, yTicks: ticksHeavyY, banda: [-1.5, 2.7],
  padding: {left: 0, top: 34, right: 48, bottom: 0}, anchoY: 28, altoX: 36, padX: 17, padY: 2, fuenteTick: 7,
  xTitulo: 29, yTituloX: 10, yTituloDy: 5
});

GraficoVolcan('grafico-d', {
  nube: edfHeavyCloud, nucleo: edfHeavyCore, r60: edfHeavy60S, r40: edfHeavy40S,
  genes: edfHeavyGenes, geneX: edfHeavyGeneX, geneY: edfHeavyGeneY, pos: edfHeavyPos,
  subtitulo: 'ΔEDF1 - heavy polysomes',
  xMin: -1.5, xMax: 2.7, yMax: 3.5, xTicks: ticksHeavyX, yTicks: ticksHeavyY, banda: [-1.5, 2.7],
  padding: {left: 0, top: 41, right: 32, bottom: 0}, anchoY: 52, altoX: 36, padX: 17, padY: 7, fuenteTick: 7,
  xTitulo: 30, yTituloX: 32.5, yTituloDy: 8
});
</script>
</body>
</html>
